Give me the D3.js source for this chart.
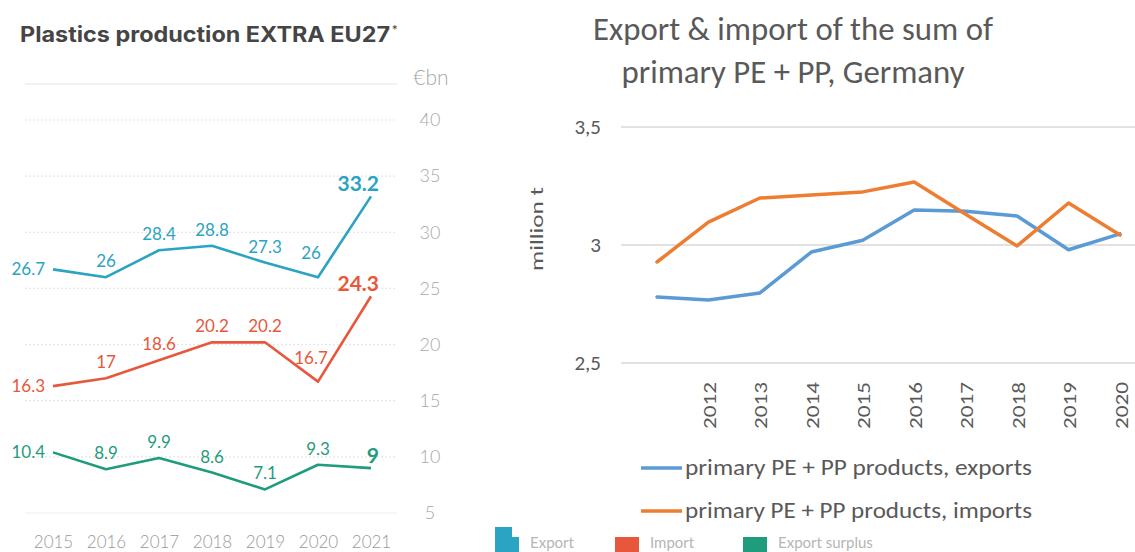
<!DOCTYPE html>
<html>
<head>
<meta charset="utf-8">
<script src="https://cdn.jsdelivr.net/npm/d3@7"></script>
<style>
  body { margin: 0; background: #fff; }
  svg { display: block; }
</style>
</head>
<body>
<svg id="svg1" width="1135" height="552"></svg>
<script>
// left chart data (EUR bn)
var years = ["2015", "2016", "2017", "2018", "2019", "2020", "2021"];
var exportVals = [26.7, 26, 28.4, 28.8, 27.3, 26, 33.2];
var importVals = [16.3, 17, 18.6, 20.2, 20.2, 16.7, 24.3];
var surplusVals = [10.4, 8.9, 9.9, 8.6, 7.1, 9.3, 9];
var leftTicks = [5, 10, 15, 20, 25, 30, 35, 40];
var legendNames = ["Export", "Import", "Export surplus"];

// right chart data (million t)
var deYears = ["2011", "2012", "2013", "2014", "2015", "2016", "2017", "2018", "2019", "2020"];
var deExports = [2.78, 2.767, 2.797, 2.97, 3.02, 3.148, 3.143, 3.123, 2.98, 3.047];
var deImports = [2.928, 3.097, 3.199, 3.212, 3.225, 3.267, 3.13, 2.996, 3.178, 3.042];
var deTicks = [2.5, 3, 3.5];
var deLabelYears = ["2012", "2013", "2014", "2015", "2016", "2017", "2018", "2019", "2020"];
var deLegend = ["primary PE + PP products, exports", "primary PE + PP products, imports"];

var svg = d3.select("#svg1");
var leftFont = "Lato, 'Open Sans', sans-serif";
var rightFont = "Carlito, 'Open Sans', sans-serif";

var colExport = "#2ba3c2", colImport = "#e8573c", colSurplus = "#1f9c7c";

// ---------- left chart ----------
var x = d3.scalePoint().domain(years).range([53, 371]);
var y = d3.scaleLinear().domain([5, 40]).range([513, 120]);

var left = svg.append("g");

left.append("text")
    .attr("x", 20).attr("y", 42)
    .attr("font-family", "Inter, 'Noto Sans', sans-serif")
    .attr("font-weight", 700)
    .attr("font-size", 21)
    .attr("fill", "#454545")
    .attr("textLength", 370)
    .attr("lengthAdjust", "spacingAndGlyphs")
    .text("Plastics production EXTRA EU27");
left.append("text")
    .attr("x", 392).attr("y", 33)
    .attr("font-family", "Inter, 'Noto Sans', sans-serif")
    .attr("font-size", 11).attr("fill", "#454545")
    .text("*");

// top solid rule
left.append("line")
    .attr("x1", 25).attr("x2", 397)
    .attr("y1", 84).attr("y2", 84)
    .attr("stroke", "#eeeeee").attr("stroke-width", 1.5);

left.append("text")
    .attr("x", 431).attr("y", 85)
    .attr("text-anchor", "middle")
    .attr("font-family", leftFont).attr("font-weight", 300)
    .attr("font-size", 21).attr("fill", "#a8a8a8")
    .text("€bn");

// grid
left.selectAll(".grid")
    .data(leftTicks)
  .enter().append("line")
    .attr("class", "grid")
    .attr("x1", 25).attr("x2", 397)
    .attr("y1", function(d) { return y(d); })
    .attr("y2", function(d) { return y(d); })
    .attr("stroke", function(d) { return d == 5 ? "#eeeeee" : "#e6e6e6"; })
    .attr("stroke-width", 1.2)
    .attr("stroke-dasharray", function(d) { return d == 5 ? null : "2,2"; });

var yAxis = d3.axisRight(y).tickValues(leftTicks).tickSize(0).tickPadding(0);
left.append("g")
    .attr("transform", "translate(430,0)")
    .call(yAxis)
    .call(function(g) { g.select(".domain").remove(); })
    .selectAll("text")
    .attr("text-anchor", "middle")
    .attr("font-family", leftFont).attr("font-weight", 300)
    .attr("font-size", 18).attr("fill", "#a8a8a8");

var xAxis = d3.axisBottom(x).tickSize(0).tickPadding(0);
left.append("g")
    .attr("transform", "translate(0,536)")
    .call(xAxis)
    .call(function(g) { g.select(".domain").remove(); })
    .selectAll("text")
    .attr("font-family", leftFont).attr("font-weight", 300)
    .attr("font-size", 17).attr("fill", "#999999");

var line = d3.line()
    .x(function(d, i) { return x(years[i]); })
    .y(function(d) { return y(d); });

function add_series(vals, color) {
  left.append("path")
      .datum(vals)
      .attr("d", line)
      .attr("fill", "none")
      .attr("stroke", color)
      .attr("stroke-width", 2.6)
      .attr("stroke-linejoin", "round");

  var last = vals.length - 1;
  // label before a steep final rise is nudged up-left so the line stays clear
  function steep(i) { return i == last - 1 && vals[last] - vals[i] > 5; }
  left.selectAll(null)
      .data(vals)
    .enter().append("text")
      .attr("x", function(d, i) {
        if (i == 0) return x(years[i]) - 8;
        if (i == last) return x(years[i]) + 8;
        if (steep(i)) return x(years[i]) - 7;
        return x(years[i]);
      })
      .attr("y", function(d, i) {
        if (i == 0) return y(d) + 6;
        if (i == last) return y(d) - 5;
        if (steep(i)) return y(d) - 18;
        return y(d) - 10;
      })
      .attr("text-anchor", function(d, i) {
        if (i == 0 || i == last) return "end";
        return "middle";
      })
      .attr("font-family", leftFont)
      .attr("font-weight", function(d, i) { return i == last ? 700 : 400; })
      .attr("font-size", function(d, i) { return i == last ? 21 : 17; })
      .attr("fill", color)
      .text(function(d) { return d; });
}

add_series(exportVals, colExport);
add_series(importVals, colImport);
add_series(surplusVals, colSurplus);

// legend (partly hidden behind the right panel)
var legX = [495, 615, 743];
var legCol = [colExport, colImport, colSurplus];
legendNames.forEach(function(name, i) {
  left.append("rect")
      .attr("x", legX[i]).attr("y", 527)
      .attr("width", 24).attr("height", 25)
      .attr("fill", legCol[i]);
  left.append("text")
      .attr("x", legX[i] + 35).attr("y", 548)
      .attr("font-family", leftFont)
      .attr("font-size", 15).attr("fill", "#b5b5b5")
      .text(name);
});

// ---------- right chart ----------
svg.append("rect")
    .attr("x", 512).attr("y", 0)
    .attr("width", 623).attr("height", 537)
    .attr("fill", "#fff");

var right = svg.append("g");

var x2 = d3.scalePoint().domain(deYears).range([657, 1120]);
var y2 = d3.scaleLinear().domain([2.5, 3.5]).range([363, 127]);

var titleLines = ["Export & import of the sum of", "primary PE + PP, Germany"];
var titleLen = [400, 343];
titleLines.forEach(function(t, i) {
  right.append("text")
      .attr("x", 793).attr("y", 40 + i * 43)
      .attr("text-anchor", "middle")
      .attr("font-family", rightFont)
      .attr("font-size", 33)
      .attr("fill", "#595959")
      .attr("textLength", titleLen[i])
      .attr("lengthAdjust", "spacingAndGlyphs")
      .text(t);
});

right.selectAll(".rgrid")
    .data(deTicks)
  .enter().append("line")
    .attr("class", "rgrid")
    .attr("x1", 621).attr("x2", 1135)
    .attr("y1", function(d) { return y2(d); })
    .attr("y2", function(d) { return y2(d); })
    .attr("stroke", "#d9d9d9").attr("stroke-width", 1.5);

var fmt = d3.formatLocale({decimal: ",", thousands: ".", grouping: [3], currency: ["", ""]}).format("~g");

var yAxis2 = d3.axisLeft(y2).tickValues(deTicks).tickFormat(fmt).tickSize(0).tickPadding(0);
right.append("g")
    .attr("transform", "translate(601,0)")
    .call(yAxis2)
    .call(function(g) { g.select(".domain").remove(); })
    .selectAll("text")
    .attr("font-family", rightFont)
    .attr("font-size", 21).attr("fill", "#595959");

right.append("text")
    .attr("transform", "translate(543,229) rotate(-90)")
    .attr("text-anchor", "middle")
    .attr("font-family", rightFont)
    .attr("font-size", 18).attr("fill", "#595959")
    .attr("textLength", 84)
    .attr("lengthAdjust", "spacingAndGlyphs")
    .text("million  t");

var xAxis2 = d3.axisBottom(x2).tickValues(deLabelYears).tickSize(0).tickPadding(0);
right.append("g")
    .attr("transform", "translate(0,382)")
    .call(xAxis2)
    .call(function(g) { g.select(".domain").remove(); })
    .selectAll("text")
    .attr("transform", "rotate(-90)")
    .attr("text-anchor", "end")
    .attr("x", 0).attr("y", 7).attr("dy", 0)
    .attr("font-family", rightFont)
    .attr("font-size", 19).attr("fill", "#595959")
    .attr("textLength", 47)
    .attr("lengthAdjust", "spacingAndGlyphs");

var line2 = d3.line()
    .x(function(d, i) { return x2(deYears[i]); })
    .y(function(d) { return y2(d); });

var deColors = ["#5b9bd5", "#ed7d31"];
[deExports, deImports].forEach(function(vals, i) {
  right.append("path")
      .datum(vals)
      .attr("d", line2)
      .attr("fill", "none")
      .attr("stroke", deColors[i])
      .attr("stroke-width", 3.5)
      .attr("stroke-linejoin", "round")
      .attr("stroke-linecap", "round");
});

deLegend.forEach(function(name, i) {
  var ly = 468 + i * 43;
  right.append("line")
      .attr("x1", 641).attr("x2", 682)
      .attr("y1", ly).attr("y2", ly)
      .attr("stroke", deColors[i]).attr("stroke-width", 3.5);
  right.append("text")
      .attr("x", 685).attr("y", ly + 7)
      .attr("font-family", rightFont)
      .attr("font-size", 22).attr("fill", "#595959")
      .attr("textLength", 347)
      .attr("lengthAdjust", "spacingAndGlyphs")
      .text(name);
});
</script>
</body>
</html>
